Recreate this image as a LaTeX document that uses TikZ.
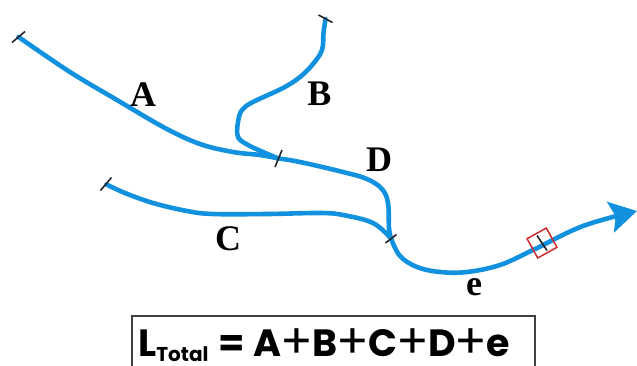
\documentclass[tikz,border=0pt]{standalone}
\usepackage{fontspec}
\setmainfont{Liberation Serif}
\newfontfamily\popfont{Poppins}
\usetikzlibrary{arrows.meta,calc}
\definecolor{pipeblue}{RGB}{18,146,222}
\definecolor{boxred}{RGB}{205,45,45}
\newcommand\fplus{\hspace{-1pt}\raisebox{-2.8pt}{\fontsize{48}{48}\selectfont\mdseries +}\hspace{-1pt}}
\tikzset{
  pipe/.style={draw=pipeblue, line width=4.6pt, line cap=round, line join=round},
  tickline/.style={draw=black!85, line width=1.6pt},
  seglabel/.style={inner sep=0pt, font=\bfseries\fontsize{36}{40}\selectfont},
}
\begin{document}
\begin{tikzpicture}[x=1pt,y=-1pt]
\useasboundingbox (0,0) rectangle (637,365);
% junctions / ends
\coordinate (a0) at (18.5,37);
\coordinate (b0) at (325.5,19);
\coordinate (c0) at (106.5,184.5);
\coordinate (j1) at (278.5,158.5);
\coordinate (j2) at (391,238.5);
\coordinate (tip) at (637,211);
% pipes
\draw[pipe] plot[smooth, tension=0.6] coordinates {(a0) (70,72) (117,100) (165,128) (200,144) (233,152) (260,155) (j1)};
\draw[pipe] plot[smooth, tension=0.6] coordinates {(b0) (323.5,33) (322,50) (313,64) (300,77) (283,88) (253,102) (242,110) (238,122) (238,137) (248,145) (263,152) (j1)};
\draw[pipe] plot[smooth, tension=0.6] coordinates {(j1) (300,162) (343,172) (367,179) (382,189) (388,203) (389,228) (j2)};
\draw[pipe] plot[smooth, tension=0.6] coordinates {(c0) (125,193) (153,203) (187,211) (213,214) (267,214) (320,213) (343,215) (373,223) (j2)};
\draw[pipe, -{Stealth[length=27pt,width=31pt,inset=5pt]}] plot[smooth, tension=0.6] coordinates {(j2) (400,256) (417,267) (440,272) (467,272) (500,265) (533,250) (583,226) (tip)};
% ticks
\draw[tickline] ($(a0)+(-6.5,5.5)$) -- ($(a0)+(6.5,-5.5)$);
\draw[tickline] ($(b0)+(-7,-4)$) -- ($(b0)+(7,3.5)$);
\draw[tickline] ($(c0)+(-6,6)$) -- ($(c0)+(5,-7)$);
\draw[tickline] ($(j1)+(-3.5,8.5)$) -- ($(j1)+(3.5,-8.5)$);
\draw[tickline] ($(j2)+(-5.5,4.5)$) -- ($(j2)+(5.5,-4)$);
% sample box
\node[draw=boxred, line width=1.5pt, minimum size=22pt, inner sep=0pt, rotate=29] (sample) at (542,243) {};
\draw[tickline] ($(sample.center)+(-5,-7.5)$) -- ($(sample.center)+(5,7.5)$);
% labels
\node[seglabel] (lA) at (143,95) {A};
\node[seglabel] (lB) at (319.5,94) {B};
\node[seglabel] (lC) at (228,238.5) {C};
\node[seglabel] (lD) at (379,160) {D};
\node[seglabel] (le) at (474,287.5) {e};
% formula
\draw[draw=black!75, line width=1.3pt] (132,367) -- (132,316) -- (535,316) -- (535,367);
\node[anchor=base west, inner sep=0pt, font=\popfont\bfseries\fontsize{38}{40}\selectfont] (formula) at (138,356)
  {L\raisebox{-5.5pt}{\fontsize{20}{20}\selectfont Total}\hspace{10pt}={\hspace{9pt}}A\fplus B\fplus C\fplus D\fplus e};
\end{tikzpicture}
\end{document}
